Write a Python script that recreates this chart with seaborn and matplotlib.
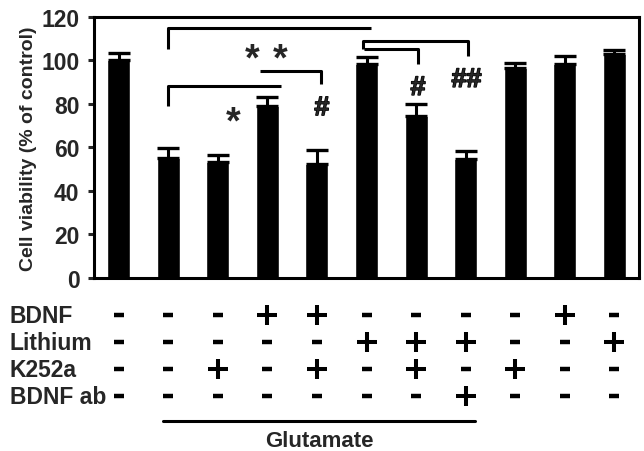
import matplotlib
matplotlib.use("Agg")
import matplotlib.pyplot as plt
import matplotlib.patheffects as pe
import numpy as np
import pandas as pd
import seaborn as sns


# bar heights (% of control) and SEM
groups = list(range(11))
viability = [100.3, 55.2, 53.4, 79.2, 52.3, 98.5, 74.4, 54.4, 96.3, 98.5, 102.8]
sem = [3.1, 4.4, 3.0, 4.0, 6.3, 3.1, 5.3, 3.9, 2.7, 3.4, 2.2]

# treatment table under the bars
row_names = ["BDNF", "Lithium", "K252a", "BDNF ab"]
bdnf = ["-", "-", "-", "+", "+", "-", "-", "-", "-", "+", "-"]
lithium = ["-", "-", "-", "-", "-", "+", "+", "+", "-", "-", "+"]
k252a = ["-", "-", "+", "-", "+", "-", "+", "-", "+", "-", "-"]
bdnf_ab = ["-", "-", "-", "-", "-", "-", "-", "+", "-", "-", "-"]
glutamate_span = [0.89, 7.19]

# significance brackets (x in group units, y in % of control)
brackets = [
    ([1.0, 1.0, 5.09], [105.4, 114.9, 114.9]),
    ([1.0, 1.0, 3.28], [79.0, 88.0, 88.0]),
    ([2.85, 4.09, 4.09], [95.3, 95.3, 89.2]),
    ([4.93, 4.93, 7.05, 7.05], [105.2, 108.8, 108.8, 101.8]),
    ([4.95, 6.04, 6.04], [105.2, 105.2, 98.5]),
]
marks = [("*", 2.69, 104), ("*", 3.25, 104), ("*", 2.30, 75),
         ("#", 4.10, 78), ("#", 6.04, 87.3), ("##", 7.02, 91)]


sns.set_style("ticks")
plt.rcParams["font.family"] = ["Liberation Sans", "DejaVu Sans"]
plt.rcParams["font.weight"] = "bold"

fig = plt.figure(figsize=(6.44, 4.52), dpi=100)
ax = fig.add_axes([94 / 644, 1 - 278.7 / 452, 545 / 644, 260.8 / 452])

df = pd.DataFrame({"group": groups, "viability": viability})
sns.barplot(data=df, x="group", y="viability", color="black", saturation=1,
            width=0.465, errorbar=None, ax=ax)
ax.errorbar(groups, viability, yerr=[np.zeros(len(sem)), sem], fmt="none",
            ecolor="black", elinewidth=2.2, capsize=8, capthick=2.4)

ax.set_xlim(-0.5, 10.5)
ax.set_ylim(0, 120)
ax.set_yticks(range(0, 121, 20))
ax.set_xticks([])
ax.set_xlabel("")
ax.set_ylabel("Cell viability (% of control)", fontsize=14, fontweight="bold")
ax.yaxis.set_label_coords(-0.105, 0.5)
ax.tick_params(axis="y", labelsize=16.5, width=2.2, length=4.5, pad=6, direction="out")
for lbl in ax.get_yticklabels():
    lbl.set_fontweight("bold")
for sp in ax.spines.values():
    sp.set_visible(True)
    sp.set_linewidth(2.2)
    sp.set_color("black")

for xs, ys in brackets:
    ax.plot(xs, ys, color="black", lw=2.2, solid_capstyle="butt", clip_on=False)
heavy = [pe.withStroke(linewidth=1.0, foreground="black")]
for txt, x, y in marks:
    if txt == "*":
        # asterisk glyph sits high in its box, so nudge it down
        ax.text(x, y - 3.5, txt, ha="center", va="center", fontsize=27,
                fontweight="bold")
    else:
        ax.text(x, y, txt, ha="center", va="center", fontsize=19.5,
                fontweight="bold", path_effects=heavy)

# table of treatments
tab = fig.add_axes([94 / 644, 0, 545 / 644, 152 / 452])
tab.set_xlim(ax.get_xlim())
tab.set_ylim(5.037, -0.593)
tab.axis("off")
for r, (name, row) in enumerate(zip(row_names, [bdnf, lithium, k252a, bdnf_ab])):
    tab.text(-2.2, r, name, ha="left", va="center", fontsize=16.5,
             fontweight="bold", clip_on=False)
    plus = [c for c, s in enumerate(row) if s == "+"]
    minus = [c for c, s in enumerate(row) if s == "-"]
    tab.plot(plus, [r] * len(plus), ls="none", marker="+", ms=13.7, mew=2.9,
             color="black", clip_on=False)
    tab.plot(minus, [r] * len(minus), ls="none", marker="_", ms=7.5, mew=3.2,
             color="black", clip_on=False)
tab.plot(glutamate_span, [3.93, 3.93], color="black", lw=2.2)
tab.text(np.mean(glutamate_span), 4.63, "Glutamate", ha="center", va="center",
         fontsize=16, fontweight="bold")

fig.savefig("out.png", dpi=100)
